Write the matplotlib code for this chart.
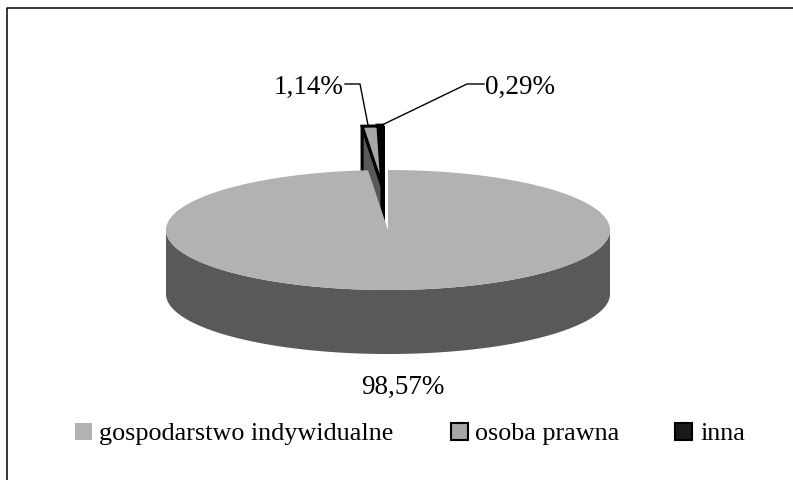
# -*- coding: utf-8 -*-
import numpy as np
import matplotlib
matplotlib.use("Agg")
import matplotlib.pyplot as plt
from matplotlib.patches import Polygon, Rectangle

labels = ["gospodarstwo indywidualne", "osoba prawna", "inna"]
shares = [98.57, 1.14, 0.29]
share_labels = ["98,57%", "1,14%", "0,29%"]
top_colors = ["#b2b2b2", "#a6a6a6", "#1a1a1a"]

plt.rcParams["font.family"] = ["Liberation Serif", "DejaVu Serif"]

fig = plt.figure(figsize=(7.93, 4.81), dpi=100)
ax = fig.add_axes([0, 0, 1, 1])
ax.set_xlim(0, 793)
ax.set_ylim(481, 0)
ax.axis("off")

# outer frame, only top and left are inside the crop
ax.plot([6.5, 6.5, 793], [481, 8.5, 8.5], color="black", lw=1.1, zorder=1)

cx, cy, rx, ry, depth = 388, 231, 222, 60, 64
small_x, small_y = 382, 187  # pulled out slices


def arc(x0, y0, a0, a1, n=200):
    # angles in degrees clockwise from 12 o'clock
    t = np.radians(np.linspace(a0, a1, n))
    return np.column_stack([x0 + rx * np.sin(t), y0 - ry * np.cos(t)])


ends = np.cumsum(shares) * 3.6
starts = ends - np.array(shares) * 3.6

# small slices first, main slice is drawn over them
p_top = arc(small_x, small_y, starts[1], ends[1], 20)
q_top = arc(small_x, small_y, starts[2], ends[2], 20)
ax.add_patch(Polygon([q_top[-1], q_top[-1] + [0, depth], [small_x, small_y + depth], [small_x, small_y]],
                     fc="black", ec="black", lw=3.4, zorder=2))
ax.add_patch(Polygon(np.vstack([[small_x, small_y], q_top]), fc=top_colors[2], ec="black", lw=3.4, zorder=2))
ax.add_patch(Polygon([p_top[0], p_top[0] + [0, depth], [small_x, small_y + depth], [small_x, small_y]],
                     fc="#595959", ec="black", lw=2.2, zorder=3))
ax.add_patch(Polygon(np.vstack([[small_x, small_y], p_top]), fc=top_colors[1], ec="black", lw=2.2, zorder=3))

# main slice wall + top
m_top = arc(cx, cy, starts[0], ends[0], 500)
front = arc(cx, cy, 90, 270, 200)
wall = np.vstack([front, (front + [0, depth])[::-1]])
ax.add_patch(Polygon(wall, fc="#595959", ec="none", zorder=4))
ax.add_patch(Polygon(np.vstack([[cx, cy], m_top]), fc=top_colors[0], ec="none", zorder=5))

# leader lines
ax.plot([345, 360, 368], [85, 85, 126], color="black", lw=1, zorder=6)
ax.plot([382, 467, 484], [126, 85, 85], color="black", lw=1, zorder=6)

ax.text(343, 84.5, share_labels[1], fontsize=19.5, ha="right", va="center_baseline")
ax.text(485, 84.5, share_labels[2], fontsize=19.5, ha="left", va="center_baseline")
ax.text(403, 384, share_labels[0], fontsize=19.5, ha="center", va="center_baseline")

# legend
box_x = [75, 451, 675]
text_x = [99, 475, 700]
for i in range(3):
    edge = "none" if i == 0 else "black"
    ax.add_patch(Rectangle((box_x[i], 424), 17, 17, fc=top_colors[i], ec=edge, lw=1.5))
    ax.text(text_x[i], 432, labels[i], fontsize=18.8, ha="left", va="center_baseline")

fig.savefig("out.png", dpi=100)
